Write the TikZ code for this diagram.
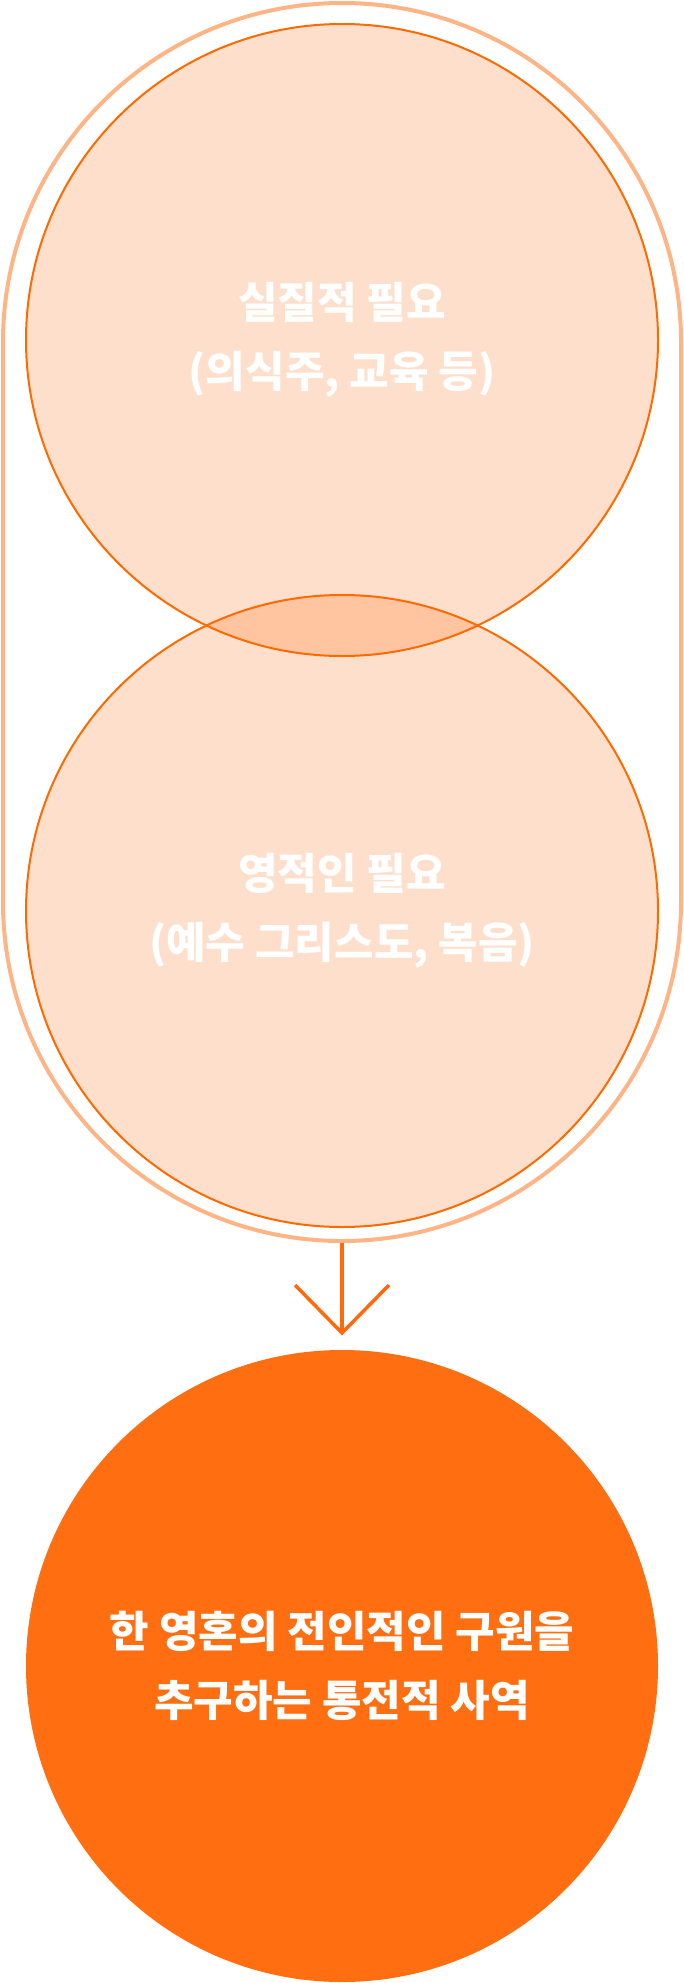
\documentclass[tikz,border=0pt]{standalone}
\usepackage{fontspec}
\newfontfamily\kr{Noto Sans CJK KR}
\definecolor{frameC}{HTML}{FFB485}
\definecolor{ringC}{HTML}{FF6A00}
\definecolor{peachC}{HTML}{FEDFCB}
\definecolor{lensC}{HTML}{FFC5A0}
\definecolor{goalC}{HTML}{FF6E10}
\definecolor{arrowC}{HTML}{FF6A0F}
\tikzset{
  bubble/.style={circle, inner sep=0pt, minimum size=632pt, fill=peachC},
  goalbubble/.style={circle, inner sep=0pt, minimum size=632pt, fill=goalC},
  ring/.style={draw=ringC, line width=2pt},
  frame/.style={draw=frameC, line width=4pt, rounded corners=339pt, minimum width=678pt, minimum height=1238pt, inner sep=0pt},
  label/.style={text=white, align=center, font=\kr\bfseries\fontsize{43}{69}\selectfont},
  arrowline/.style={draw=arrowC, line width=3.5pt, line join=miter},
}
\begin{document}
\begin{tikzpicture}[x=1pt, y=-1pt]
\useasboundingbox (0,0) rectangle (684,1983);
% outer frame
\node[frame] (frm) at (342,622) {};
% two overlapping circles
\node[bubble] (top) at (342,340) {};
\node[bubble] (mid) at (342,911) {};
\begin{scope}
  \clip (top.center) circle[radius=316pt];
  \fill[lensC] (mid.center) circle[radius=316pt];
\end{scope}
\draw[ring] (top.center) circle[radius=316pt];
\draw[ring] (mid.center) circle[radius=316pt];
\node[label] (toptxt) at (top.center) {실질적 필요\\(의식주, 교육 등)};
\node[label] (midtxt) at (mid.center) {영적인 필요\\(예수 그리스도, 복음)};
% arrow
\coordinate (tip) at (342,1333);
\coordinate (armL) at (295,1285);
\coordinate (armR) at (389,1285);
\draw[arrowline] (frm.south) -- (tip);
\draw[arrowline] (armL) -- (tip) -- (armR);
% goal circle
\node[goalbubble] (goal) at (342,1666) {};
\node[label] (goaltxt) at (goal.center) {한 영혼의 전인적인 구원을\\추구하는 통전적 사역};
\end{tikzpicture}
\end{document}
